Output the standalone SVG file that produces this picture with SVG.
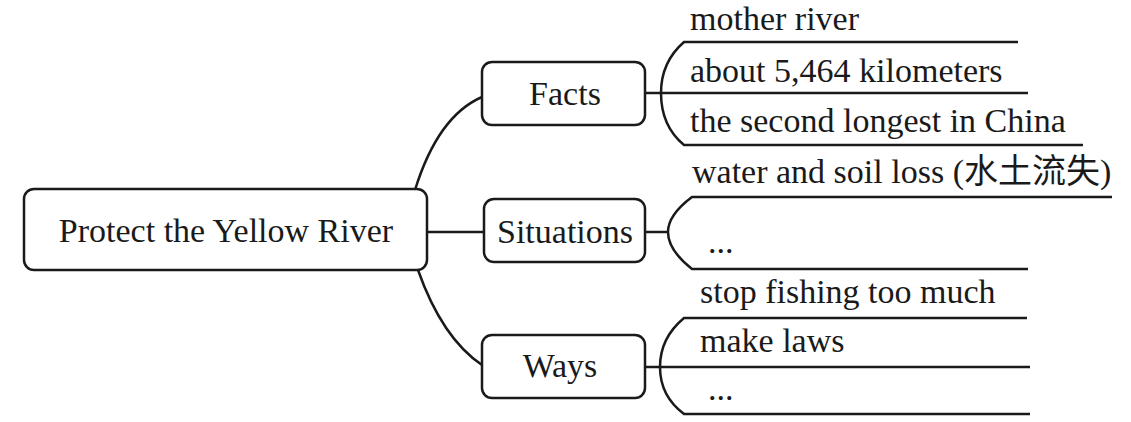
<svg xmlns="http://www.w3.org/2000/svg" width="1131" height="422" viewBox="0 0 1131 422">
<style>
.box{fill:#fff;stroke:#1a1a1a;stroke-width:2.5}
.ln{fill:none;stroke:#1a1a1a;stroke-width:2.5}
.t{font-family:"Liberation Serif","Noto Sans CJK SC",serif;font-size:34px;fill:#1a1a1a}
.c{text-anchor:middle}
</style>
<rect width="1131" height="422" fill="#fff"/>
<g id="connectors">
<path class="ln" d="M415,190 Q438,116 482,97"/>
<path class="ln" d="M427,232 H484"/>
<path class="ln" d="M418,270 Q442,338 482,365"/>
<path class="ln" d="M645,93 H1028"/>
<path class="ln" d="M1018,42 H684 Q661,62 661,93 Q661,126 684,145 H1083"/>
<path class="ln" d="M645,232 H668"/>
<path class="ln" d="M1112,197 H692 Q668,215 668,232 Q668,250 692,269 H1028"/>
<path class="ln" d="M645,367 H1030"/>
<path class="ln" d="M1027,318 H684 Q660,338 660,367 Q660,396 684,414 H1030"/>
</g>
<g id="main">
<rect class="box" x="24" y="189" width="403" height="81" rx="10"/>
<text class="t c" x="226" y="242">Protect the Yellow River</text>
</g>
<g id="facts">
<rect class="box" x="482" y="62" width="163" height="63" rx="10"/>
<text class="t c" x="565" y="105">Facts</text>
</g>
<g id="situations">
<rect class="box" x="484" y="199" width="161" height="63" rx="10"/>
<text class="t c" x="565" y="243">Situations</text>
</g>
<g id="ways">
<rect class="box" x="482" y="335" width="163" height="63" rx="10"/>
<text class="t c" x="560" y="377">Ways</text>
</g>
<g id="leaf-mother"><text class="t" x="690" y="30">mother river</text></g>
<g id="leaf-length"><text class="t" x="690" y="82">about 5,464 kilometers</text></g>
<g id="leaf-second"><text class="t" x="690" y="132">the second longest in China</text></g>
<g id="leaf-water"><text class="t" x="692" y="183">water and soil loss (水土流失)</text></g>
<g id="leaf-sit-more"><text class="t" x="708" y="253">...</text></g>
<g id="leaf-fishing"><text class="t" x="700" y="303">stop fishing too much</text></g>
<g id="leaf-laws"><text class="t" x="700" y="352">make laws</text></g>
<g id="leaf-ways-more"><text class="t" x="708" y="400">...</text></g>
</svg>
